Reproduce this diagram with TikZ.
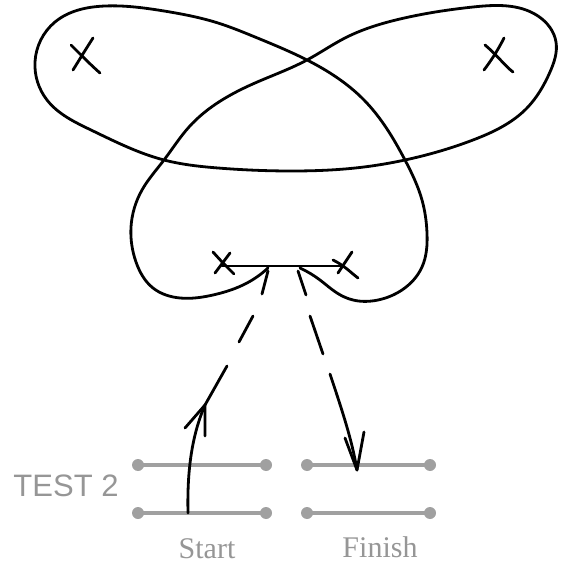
\documentclass[tikz,border=0pt]{standalone}
\usepackage{fontspec}
\setmainfont{Liberation Serif}
\newfontfamily\labelsans{Liberation Sans}
\usetikzlibrary{hobby}
\definecolor{bargray}{RGB}{160,160,160}
\definecolor{txtgray}{RGB}{150,150,150}
\begin{document}
\begin{tikzpicture}[x=1pt,y=-1pt,
  ink/.style={line width=2.8pt,line cap=round,line join=round,black},
  bar/.style={line width=4pt,bargray},
  dotend/.style={circle,fill=bargray,inner sep=0pt,minimum size=12pt},
  lbl/.style={txtgray,anchor=base,inner sep=0pt}]
\useasboundingbox (0,0) rectangle (565,564);
% main curve
\draw[ink,use Hobby shortcut] (268,268) .. (247,283) .. (213,295) .. (180,298)
 .. (153,288) .. (136,262) .. (131,227) .. (142,190) .. (164,160) .. (189,127)
 .. (255,83) .. (307,60) .. (345,38) .. (400,19) .. (473,7) .. (538,16)
 .. (556,42) .. (550,72) .. (527,108) .. (473,140) .. (405,160) .. (364,167)
 .. (291,171) .. (218,168) .. (164,160) .. (91,130) .. (47,100) .. (35,62)
 .. (55,22) .. (105,6) .. (164,11) .. (218,23) .. (255,37) .. (307,60)
 .. (364,100) .. (405,160) .. (422,200) .. (427,233) .. (422,267)
 .. (402,290) .. (378,300) .. (353,300) .. (337,293) .. (320,280) .. (300,268);
% segment between the two crosses
\coordinate (xl) at (222,266);
\coordinate (xr) at (342,266);
\draw[ink] (xl) -- (xr);
% crosses
\draw[ink] (213,252) .. controls (222,262) .. (234,274);
\draw[ink] (230,253) -- (215,273);
\draw[ink] (333,260) .. controls (345,266) and (350,272) .. (358,278);
\draw[ink] (352,252) -- (338,273);
\draw[ink] (71,45) .. controls (84,58) and (92,66) .. (100,73);
\draw[ink] (93,38) .. controls (84,52) and (78,62) .. (73,70);
\draw[ink] (485,45) .. controls (498,56) and (505,66) .. (513,72);
\draw[ink] (504,38) .. controls (497,52) and (490,62) .. (484,70);
% test bars
\coordinate (a1) at (138,465); \coordinate (a2) at (266,465);
\coordinate (b1) at (138,513); \coordinate (b2) at (266,513);
\coordinate (c1) at (307,465); \coordinate (c2) at (430,465);
\coordinate (d1) at (307,513); \coordinate (d2) at (430,513);
\draw[bar] (a1) -- (a2); \draw[bar] (b1) -- (b2);
\draw[bar] (c1) -- (c2); \draw[bar] (d1) -- (d2);
\foreach \p in {a1,a2,b1,b2,c1,c2,d1,d2} \node[dotend] at (\p) {};
% left path (start, upward)
\coordinate (s0) at (188,513);
\coordinate (st) at (205,405);
\coordinate (s1) at (227,366);
\coordinate (sw1) at (185,428);
\coordinate (sw2) at (205,436);
\draw[ink] (s0) .. controls (187,470) and (192,435) .. (st) -- (s1);
\draw[ink] (sw1) -- (st) -- (sw2);
\draw[ink] (253,316) -- (239,342);
\draw[ink] (268,271) -- (262,294);
% right path (downward, finish)
\coordinate (f1) at (330,374);
\coordinate (ft) at (357,470);
\coordinate (fw1) at (345,438);
\coordinate (fw2) at (364,432);
\draw[ink] (298,271) -- (306,295);
\draw[ink] (310,316) -- (323,354);
\draw[ink] (f1) .. controls (342,410) and (352,440) .. (ft);
\draw[ink] (fw1) -- (ft) -- (fw2);
% labels
\node[lbl,font=\labelsans\fontsize{31}{31}\selectfont] (test) at (66,496) {TEST 2};
\node[lbl,font=\fontsize{30}{30}\selectfont] (start) at (207,558) {Start};
\node[lbl,font=\fontsize{30}{30}\selectfont] (finish) at (380,557) {Finish};
\end{tikzpicture}
\end{document}
